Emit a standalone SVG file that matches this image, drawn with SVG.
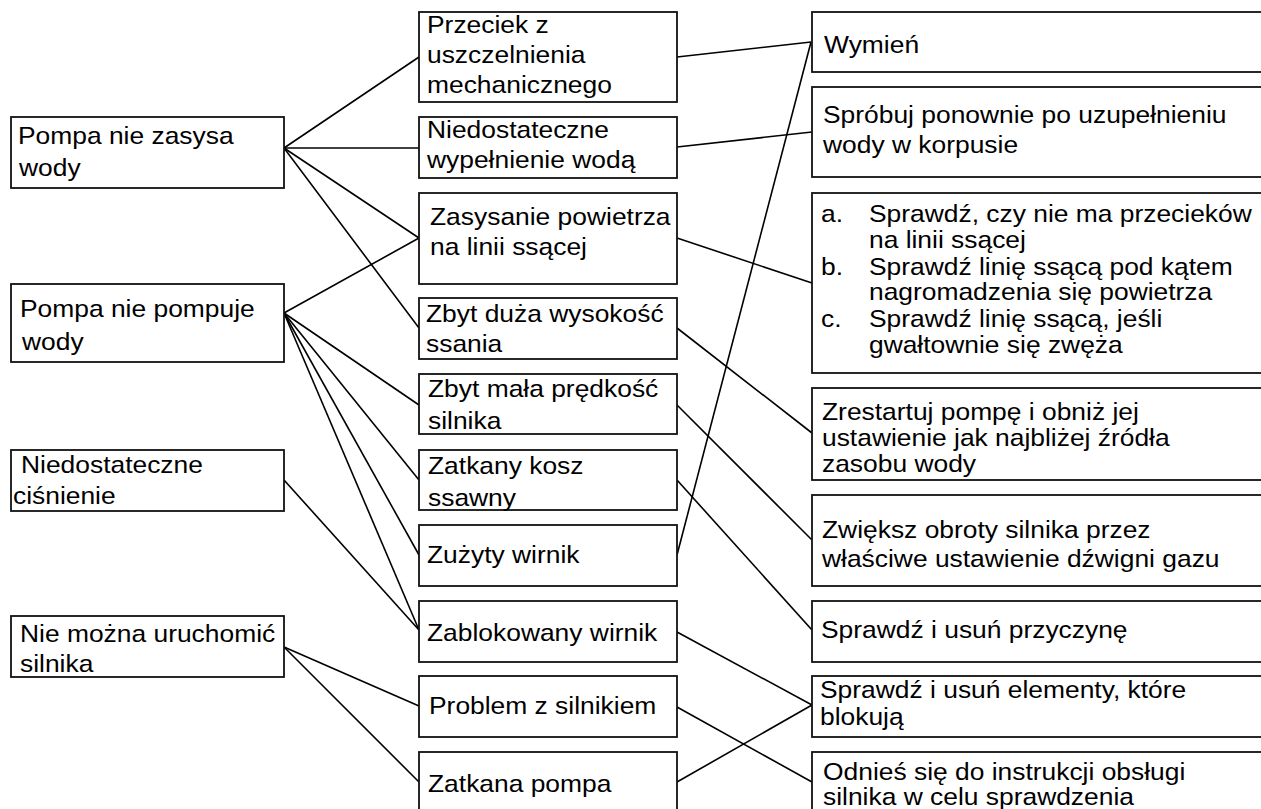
<svg xmlns="http://www.w3.org/2000/svg" width="1261" height="809" viewBox="0 0 1261 809">
<style>
.box{fill:#fff;stroke:#111;stroke-width:1.8}
.t{font-family:"Liberation Sans",Arial,sans-serif;font-size:24px;fill:#000}
.c line{stroke:#000;stroke-width:1.6}
</style>
<rect width="1261" height="809" fill="#fff"/>
<g id="connectors" class="c">
<line x1="284" y1="148" x2="419" y2="57"/>
<line x1="284" y1="148" x2="419" y2="148"/>
<line x1="284" y1="148" x2="419" y2="238"/>
<line x1="284" y1="148" x2="419" y2="328"/>
<line x1="284" y1="313" x2="419" y2="238"/>
<line x1="284" y1="313" x2="419" y2="405"/>
<line x1="284" y1="313" x2="419" y2="480"/>
<line x1="284" y1="313" x2="419" y2="555"/>
<line x1="284" y1="313" x2="419" y2="630"/>
<line x1="284" y1="480" x2="419" y2="630"/>
<line x1="284" y1="647" x2="419" y2="706"/>
<line x1="284" y1="647" x2="419" y2="782"/>
<line x1="677" y1="57" x2="811" y2="42"/>
<line x1="677" y1="147" x2="812" y2="132"/>
<line x1="677" y1="238" x2="812" y2="283"/>
<line x1="677" y1="328" x2="812" y2="433"/>
<line x1="677" y1="405" x2="812" y2="540"/>
<line x1="677" y1="480" x2="812" y2="630"/>
<line x1="677" y1="555" x2="811" y2="42"/>
<line x1="677" y1="632" x2="812" y2="705"/>
<line x1="677" y1="707" x2="812" y2="782"/>
<line x1="677" y1="782" x2="812" y2="705"/>
</g>
<g id="L1"><rect class="box" x="11" y="117" width="273" height="71"/><text class="t" transform="translate(18 0) scale(1.1 1)"><tspan x="0" y="144">Pompa nie zasysa</tspan><tspan x="0.9" y="176">wody</tspan></text></g>
<g id="L2"><rect class="box" x="11" y="284" width="273" height="78"/><text class="t" transform="translate(20 0) scale(1.1 1)"><tspan x="0" y="317">Pompa nie pompuje</tspan><tspan x="1.8" y="350">wody</tspan></text></g>
<g id="L3"><rect class="box" x="11" y="450" width="273" height="61"/><text class="t" transform="translate(21 0) scale(1.1 1)"><tspan x="0" y="473">Niedostateczne</tspan><tspan x="-7.3" y="504">ciśnienie</tspan></text></g>
<g id="L4"><rect class="box" x="11" y="616" width="273" height="61"/><text class="t" transform="translate(20 0) scale(1.1 1)"><tspan x="0" y="642">Nie można uruchomić</tspan><tspan x="0" y="672">silnika</tspan></text></g>

<g id="M1"><rect class="box" x="419" y="12" width="258" height="90"/><text class="t" transform="translate(427 0) scale(1.1 1)"><tspan x="0" y="33">Przeciek z</tspan><tspan x="0" y="63">uszczelnienia</tspan><tspan x="0" y="93">mechanicznego</tspan></text></g>
<g id="M2"><rect class="box" x="419" y="117" width="258" height="61"/><text class="t" transform="translate(427 0) scale(1.1 1)"><tspan x="0" y="138">Niedostateczne</tspan><tspan x="0" y="168">wypełnienie wodą</tspan></text></g>
<g id="M3"><rect class="box" x="419" y="193" width="258" height="91"/><text class="t" transform="translate(430 0) scale(1.1 1)"><tspan x="0" y="225">Zasysanie powietrza</tspan><tspan x="0" y="255">na linii ssącej</tspan></text></g>
<g id="M4"><rect class="box" x="419" y="298" width="258" height="61"/><text class="t" transform="translate(426 0) scale(1.1 1)"><tspan x="0" y="322">Zbyt duża wysokość</tspan><tspan x="0" y="352">ssania</tspan></text></g>
<g id="M5"><rect class="box" x="419" y="374" width="258" height="60"/><text class="t" transform="translate(428 0) scale(1.1 1)"><tspan x="0" y="397">Zbyt mała prędkość</tspan><tspan x="0" y="429">silnika</tspan></text></g>
<g id="M6"><rect class="box" x="419" y="450" width="258" height="60"/><text class="t" transform="translate(428 0) scale(1.1 1)"><tspan x="0" y="474">Zatkany kosz</tspan><tspan x="0" y="506">ssawny</tspan></text></g>
<g id="M7"><rect class="box" x="419" y="525" width="258" height="61"/><text class="t" transform="translate(427 0) scale(1.1 1)" x="0" y="563">Zużyty wirnik</text></g>
<g id="M8"><rect class="box" x="419" y="601" width="258" height="61"/><text class="t" transform="translate(427 0) scale(1.1 1)" x="0" y="641">Zablokowany wirnik</text></g>
<g id="M9"><rect class="box" x="419" y="676" width="258" height="61"/><text class="t" transform="translate(429 0) scale(1.1 1)" x="0" y="714">Problem z silnikiem</text></g>
<g id="M10"><rect class="box" x="419" y="752" width="258" height="80"/><text class="t" transform="translate(428 0) scale(1.1 1)" x="0" y="792">Zatkana pompa</text></g>

<g id="R1"><rect class="box" x="812" y="12" width="460" height="60"/><text class="t" transform="translate(824 0) scale(1.1 1)" x="0" y="53">Wymień</text></g>
<g id="R2"><rect class="box" x="812" y="87" width="460" height="90"/><text class="t" transform="translate(823 0) scale(1.1 1)"><tspan x="0" y="123">Spróbuj ponownie po uzupełnieniu</tspan><tspan x="0" y="153">wody w korpusie</tspan></text></g>
<g id="R3"><rect class="box" x="812" y="193" width="460" height="180"/><text class="t" transform="translate(821 0) scale(1.1 1)"><tspan x="0" y="222">a.</tspan><tspan x="43.6" y="222">Sprawdź, czy nie ma przecieków</tspan><tspan x="43.6" y="248">na linii ssącej</tspan><tspan x="0" y="275">b.</tspan><tspan x="43.6" y="275">Sprawdź linię ssącą pod kątem</tspan><tspan x="43.6" y="300">nagromadzenia się powietrza</tspan><tspan x="0" y="327">c.</tspan><tspan x="43.6" y="327">Sprawdź linię ssącą, jeśli</tspan><tspan x="43.6" y="353">gwałtownie się zwęża</tspan></text></g>
<g id="R4"><rect class="box" x="812" y="388" width="460" height="92"/><text class="t" transform="translate(822 0) scale(1.1 1)"><tspan x="0" y="420">Zrestartuj pompę i obniż jej</tspan><tspan x="0" y="446">ustawienie jak najbliżej źródła</tspan><tspan x="0" y="472">zasobu wody</tspan></text></g>
<g id="R5"><rect class="box" x="812" y="495" width="460" height="91"/><text class="t" transform="translate(822 0) scale(1.1 1)"><tspan x="0" y="538">Zwiększ obroty silnika przez</tspan><tspan x="0" y="567">właściwe ustawienie dźwigni gazu</tspan></text></g>
<g id="R6"><rect class="box" x="812" y="601" width="460" height="61"/><text class="t" transform="translate(821 0) scale(1.1 1)" x="0" y="638">Sprawdź i usuń przyczynę</text></g>
<g id="R7"><rect class="box" x="812" y="676" width="460" height="61"/><text class="t" transform="translate(820 0) scale(1.1 1)"><tspan x="0" y="698">Sprawdź i usuń elementy, które</tspan><tspan x="0" y="725">blokują</tspan></text></g>
<g id="R8"><rect class="box" x="812" y="752" width="460" height="80"/><text class="t" transform="translate(823 0) scale(1.1 1)"><tspan x="0" y="780">Odnieś się do instrukcji obsługi</tspan><tspan x="0" y="805">silnika w celu sprawdzenia</tspan></text></g>
</svg>
